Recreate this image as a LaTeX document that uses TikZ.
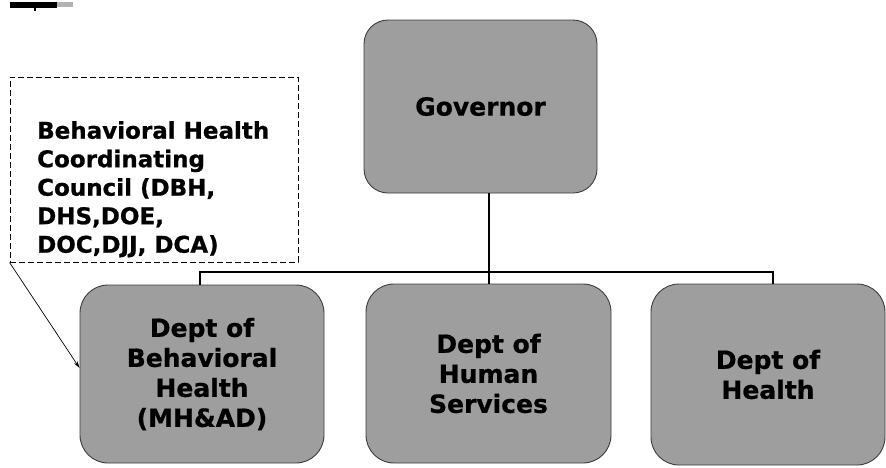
\documentclass[tikz,border=0pt]{standalone}
\usepackage{fontspec}
\setmainfont{DejaVu Sans}[BoldFont={DejaVu Sans Bold},BoldFeatures={FakeBold=0.8}]
\usetikzlibrary{arrows.meta,calc}
\definecolor{boxgray}{RGB}{158,158,158}
\definecolor{edgegray}{RGB}{60,60,60}
\begin{document}
\begin{tikzpicture}[x=1pt,y=-1pt,
  org/.style={draw=edgegray,line width=0.9pt,fill=boxgray,rounded corners=28pt,
    align=center,inner sep=0pt,font=\bfseries\fontsize{25}{30}\selectfont},
  bus/.style={line width=2pt,black},
  council/.style={draw=black,dash pattern=on 6pt off 3pt,line width=0.9pt,inner sep=0pt},
  counciltext/.style={align=left,inner sep=0pt,anchor=north west,font=\bfseries\fontsize{23}{28.5}\selectfont}]
\useasboundingbox (0,0) rectangle (886,467);
% scan mark
\fill[black] (10,2) rectangle (57,8);
\fill[black] (34,8) rectangle (36,11);
\fill[gray!60] (57,2) rectangle (73,7);
\node[org,minimum width=233pt,minimum height=173pt,rounded corners=24pt] (gov) at (480.5,106.5) {Governor};
\node[org,minimum width=244pt,minimum height=178pt] (dbh) at (202,374) {Dept of\\Behavioral\\Health\\(MH\&AD)};
\node[org,minimum width=245pt,minimum height=179pt] (dhs) at (488.5,373.5) {Dept of\\Human\\Services};
\node[org,minimum width=234pt,minimum height=181pt] (doh) at (768,374.5) {Dept of\\Health};
\node[council,minimum width=288pt,minimum height=185pt] (cbox) at (154,169.5) {};
\node[counciltext] (ctext) at (37,121) {Behavioral Health\\Coordinating\\Council (DBH,\\DHS,DOE,\\DOC,DJJ, DCA)};
\coordinate (busL) at (200,272);
\coordinate (busR) at (773,272);
\draw[bus] (gov.south -| dhs.north) -- (dhs.north);
\draw[bus] (busL |- dbh.north) -- (busL) -- (busR) -- (busR |- doh.north);
\draw[line width=0.7pt,-{Stealth[length=7pt,width=4pt]}] (cbox.south west) -- ($(dbh.west)+(0,-6)$);
\end{tikzpicture}
\end{document}
